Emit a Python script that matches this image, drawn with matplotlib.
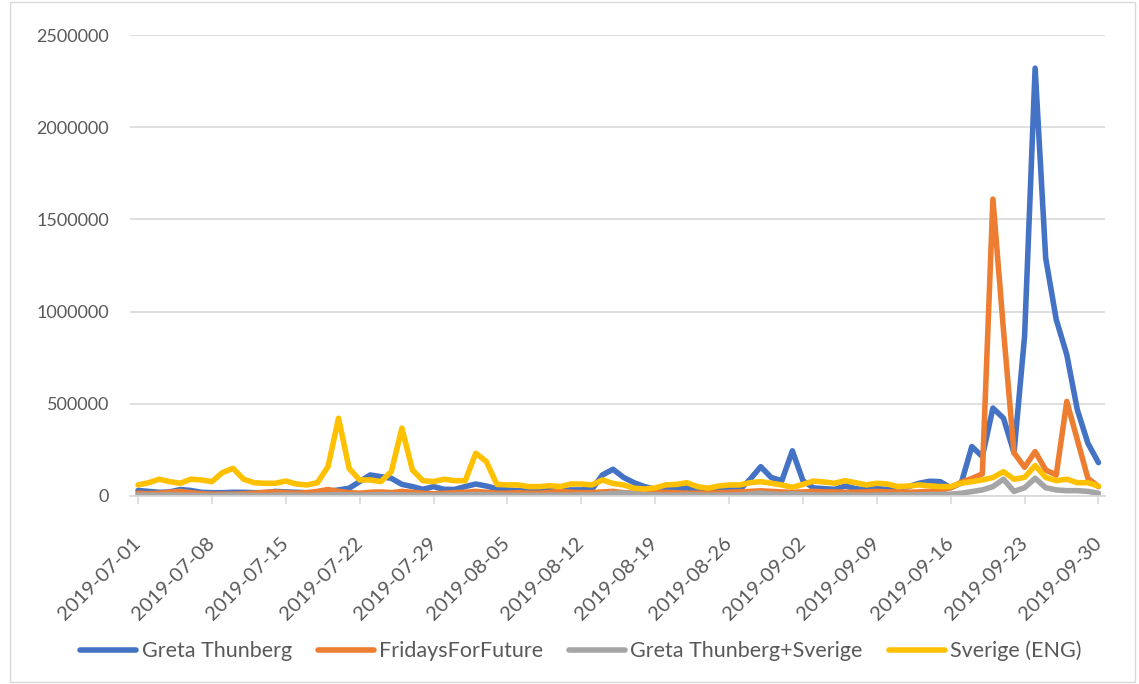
import matplotlib.pyplot as plt
import matplotlib.transforms as mtransforms
import pandas as pd

plt.rcParams['font.family'] = ['Lato', 'DejaVu Sans']

dates = pd.date_range('2019-07-01', '2019-09-30', freq='D')

greta = [30000, 25000, 20000, 22000, 35000, 30000, 20000, 18000, 18000, 20000,
         20000, 18000, 18000, 25000, 22000, 20000, 18000, 18000, 25000, 33000,
         42000, 78000, 114000, 105000, 96000, 63000, 51000, 36000, 51000, 36000,
         36000, 51000, 65000, 54000, 40000, 33000, 29000, 27000, 29000, 33000,
         29000, 33000, 33000, 36000, 114000, 145000, 101000, 72000, 51000, 36000,
         42000, 36000, 44000, 33000, 27000, 33000, 33000, 33000, 91000, 159000,
         100000, 83000, 245000, 83000, 44000, 40000, 36000, 54000, 40000, 33000,
         40000, 36000, 44000, 51000, 69000, 80000, 78000, 45000, 70000, 268000,
         214000, 477000, 422000, 234000, 866000, 2320000, 1290000, 957000, 766000, 467000,
         286000, 181000]

fff = [15000, 12000, 15000, 20000, 25000, 18000, 12000, 10000, 10000, 10000,
       12000, 15000, 20000, 22000, 18000, 15000, 18000, 25000, 35000, 25000,
       18000, 15000, 20000, 22000, 18000, 25000, 20000, 15000, 12000, 15000,
       18000, 20000, 25000, 20000, 15000, 15000, 18000, 15000, 15000, 20000,
       25000, 20000, 18000, 18000, 22000, 25000, 18000, 15000, 15000, 18000,
       20000, 18000, 15000, 15000, 15000, 18000, 20000, 22000, 25000, 28000,
       25000, 22000, 20000, 22000, 25000, 22000, 22000, 20000, 20000, 22000,
       25000, 22000, 22000, 20000, 22000, 25000, 30000, 45000, 75000, 95000,
       120000, 1610000, 900000, 234000, 156000, 241000, 141000, 114000, 513000, 304000,
       96000, 51000]

greta_sverige = [5000, 4000, 5000, 6000, 5000, 4000, 3000, 3000, 4000, 5000,
                 4000, 3000, 3000, 4000, 5000, 4000, 3000, 4000, 6000, 8000,
                 6000, 5000, 6000, 8000, 7000, 6000, 5000, 4000, 4000, 5000,
                 6000, 7000, 8000, 7000, 5000, 4000, 4000, 4000, 4000, 5000,
                 5000, 5000, 6000, 6000, 10000, 14000, 16000, 12000, 8000, 6000,
                 5000, 5000, 6000, 5000, 4000, 5000, 5000, 6000, 10000, 15000,
                 10000, 8000, 12000, 8000, 6000, 5000, 5000, 6000, 5000, 4000,
                 5000, 5000, 6000, 6000, 7000, 8000, 8000, 10000, 15000, 24000,
                 33000, 51000, 91000, 25000, 45000, 96000, 45000, 33000, 29000, 29000,
                 25000, 15000]

sverige = [60000, 72000, 91000, 78000, 69000, 91000, 87000, 78000, 127000, 150000,
           91000, 72000, 69000, 69000, 81000, 65000, 60000, 72000, 159000, 422000,
           150000, 87000, 87000, 78000, 132000, 368000, 141000, 83000, 78000, 91000,
           83000, 83000, 232000, 187000, 63000, 60000, 60000, 51000, 51000, 56000,
           51000, 65000, 65000, 60000, 87000, 68000, 60000, 42000, 38000, 44000,
           60000, 63000, 72000, 51000, 42000, 54000, 60000, 60000, 72000, 78000,
           69000, 60000, 47000, 63000, 81000, 76000, 69000, 83000, 72000, 60000,
           69000, 65000, 51000, 54000, 60000, 55000, 51000, 51000, 69000, 78000,
           87000, 100000, 132000, 91000, 101000, 165000, 101000, 83000, 91000, 72000,
           72000, 54000]

series_names = ['Greta Thunberg', 'FridaysForFuture', 'Greta Thunberg+Sverige', 'Sverige (ENG)']
colors = ['#4472C4', '#ED7D31', '#A5A5A5', '#FFC000']

W, H = 1139, 684
fig = plt.figure(figsize=(W / 100, H / 100), dpi=100)
ax = fig.add_axes([130 / W, (H - 496) / H, (1105 - 130) / W, (496 - 35) / H])

x = list(range(len(dates)))
for vals, name, c in zip([greta, fff, greta_sverige, sverige], series_names, colors):
    ax.plot(x, vals, color=c, lw=4.0, label=name, solid_joinstyle='round', solid_capstyle='round')

ax.set_ylim(0, 2500000)
ax.set_xlim(-0.76, len(dates) - 1 + 0.62)
ax.set_yticks(range(0, 2500001, 500000))
ax.set_yticklabels([str(v) for v in range(0, 2500001, 500000)])
ticks = list(range(0, len(dates), 7))
ax.set_xticks(ticks)
ax.set_xticklabels([dates[i].strftime('%Y-%m-%d') for i in ticks], rotation=45,
                   ha='right', va='center', rotation_mode='anchor')
shift = mtransforms.ScaledTranslation(7 / 100, 0, fig.dpi_scale_trans)
for lab in ax.get_xticklabels():
    lab.set_transform(lab.get_transform() + shift)

ax.grid(axis='y', color='#d9d9d9', lw=1.2)
ax.set_axisbelow(True)
for s in ['left', 'right', 'top']:
    ax.spines[s].set_visible(False)
ax.spines['bottom'].set_color('#d9d9d9')
ax.spines['bottom'].set_linewidth(1.2)
ax.tick_params(axis='y', length=0, pad=15, labelsize=13, labelcolor='#595959')
ax.tick_params(axis='x', length=6, width=1.2, color='#d9d9d9', pad=26, labelsize=14.5, labelcolor='#595959')

fig.legend(loc='center', bbox_to_anchor=(581 / W, (H - 651) / H), ncol=4, frameon=False,
           fontsize=15.5, handlelength=2.6, handletextpad=0.25, columnspacing=1.2, labelcolor='#595959')

# chart border
fig.patches.append(plt.Rectangle((10 / W, 2 / H), (W - 14) / W, (H - 4) / H, transform=fig.transFigure,
                                 fill=False, edgecolor='#d9d9d9', lw=1))

plt.savefig('out.png', dpi=100)
